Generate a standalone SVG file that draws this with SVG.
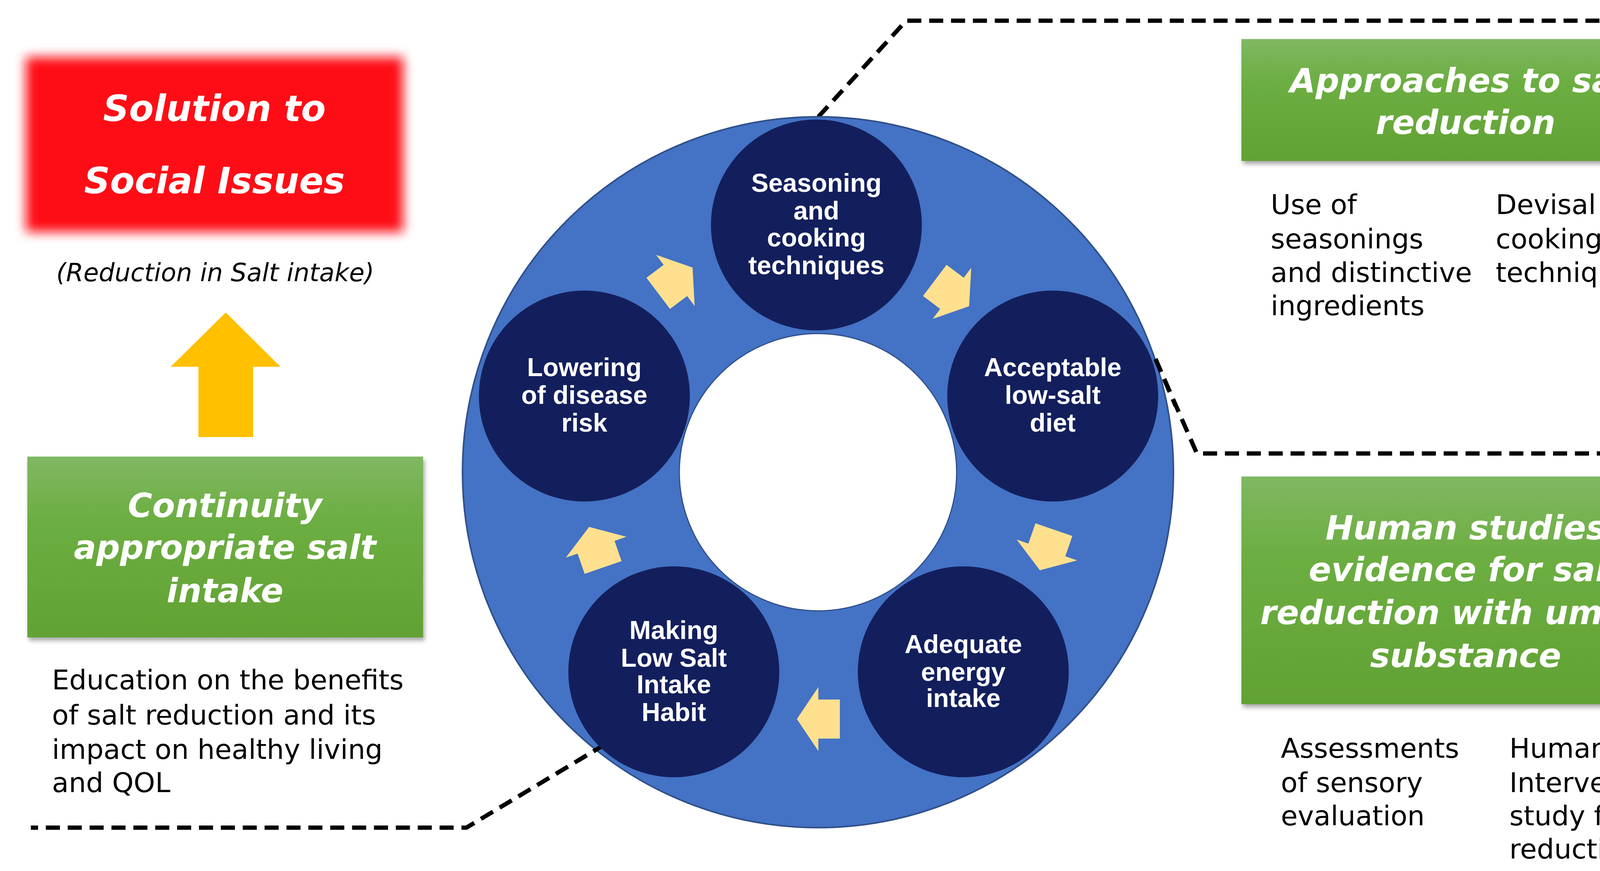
<svg xmlns="http://www.w3.org/2000/svg" width="4367" height="2230" viewBox="0 0 4367 2230">
<defs>
<linearGradient id="gg" x1="0" y1="0" x2="0" y2="1"><stop offset="0" stop-color="#80B862"/><stop offset="0.35" stop-color="#6CAE42"/><stop offset="1" stop-color="#62A234"/></linearGradient>
<filter id="blur" x="-10%" y="-20%" width="120%" height="140%"><feGaussianBlur stdDeviation="14"/></filter>
<filter id="sh" x="-5%" y="-5%" width="110%" height="115%"><feDropShadow dx="4" dy="8" stdDeviation="6" flood-color="#000" flood-opacity="0.35"/></filter>
<path id="arr" d="M-55,-50 L0,-50 L0,-82 L55,0 L0,82 L0,50 L-55,50 Z"/>
</defs>
<style>
.title{font-family:"DejaVu Sans",Verdana,sans-serif;font-weight:bold;font-style:italic;fill:#fff;text-anchor:middle}
.body{font-family:"DejaVu Sans",Verdana,sans-serif;font-size:70px;fill:#000}
.node{fill:#131F5C}
.nt{font-family:"Liberation Sans",Arial,sans-serif;font-weight:bold;font-size:66px;fill:#fff;text-anchor:middle}
.dash{fill:none;stroke:#000;stroke-width:11;stroke-dasharray:36 20}
.ya{fill:#FFE08F}
</style>
<rect width="4367" height="2230" fill="#fff"/>

<g id="connectors">
<polyline class="dash" points="2095,299 2320,53 4330,53"/>
<polyline class="dash" points="2958,919 3064,1161 4350,1161"/>
<polyline class="dash" points="1550,1905 1194,2119 79,2119"/>
</g>

<g id="ring">
<circle cx="2094" cy="1209" r="910" fill="#4472C4" stroke="#2F4F8A" stroke-width="4"/>
<circle cx="2094" cy="1209" r="355" fill="#fff" stroke="#2F4F8A" stroke-width="3"/>
</g>
<polyline class="dash" points="2958,919 3010,1040"/>
<polyline class="dash" points="1550,1905 1480,1947"/>

<g id="node-seasoning"><circle class="node" cx="2090" cy="576" r="270"/>
<text class="nt" x="2090" y="491">Seasoning</text><text class="nt" x="2090" y="562">and</text><text class="nt" x="2090" y="631">cooking</text><text class="nt" x="2090" y="702">techniques</text></g>
<g id="node-acceptable"><circle class="node" cx="2695" cy="1014" r="270"/>
<text class="nt" x="2695" y="963">Acceptable</text><text class="nt" x="2695" y="1034">low-salt</text><text class="nt" x="2695" y="1105">diet</text></g>
<g id="node-lowering"><circle class="node" cx="1496" cy="1014" r="270"/>
<text class="nt" x="1496" y="963">Lowering</text><text class="nt" x="1496" y="1034">of disease</text><text class="nt" x="1496" y="1105">risk</text></g>
<g id="node-adequate"><circle class="node" cx="2466" cy="1720" r="270"/>
<text class="nt" x="2466" y="1672">Adequate</text><text class="nt" x="2466" y="1743">energy</text><text class="nt" x="2466" y="1810">intake</text></g>
<g id="node-making"><circle class="node" cx="1725" cy="1720" r="270"/>
<text class="nt" x="1725" y="1636">Making</text><text class="nt" x="1725" y="1707">Low Salt</text><text class="nt" x="1725" y="1775">Intake</text><text class="nt" x="1725" y="1846">Habit</text></g>

<g id="cycle-arrows">
<use href="#arr" class="ya" transform="translate(2437,751) rotate(37)"/>
<use href="#arr" class="ya" transform="translate(2680,1408) rotate(109)"/>
<use href="#arr" class="ya" transform="translate(2095,1841) rotate(180)"/>
<use href="#arr" class="ya" transform="translate(1526,1401) rotate(251)"/>
<use href="#arr" class="ya" transform="translate(1729,718) rotate(-37)"/>
</g>

<g id="solution">
<rect x="66" y="146" width="966" height="448" fill="#FF0A14" filter="url(#blur)"/>
<text class="title" x="549" y="310" font-size="92">Solution to</text>
<text class="title" x="549" y="495" font-size="92">Social Issues</text>
<text x="551" y="720" font-family="DejaVu Sans,Verdana,sans-serif" font-style="italic" font-size="64" text-anchor="middle">(Reduction in Salt intake)</text>
</g>

<g id="up-arrow"><polygon points="578,800 718,939 648,939 648,1119 508,1119 508,939 437,939" fill="#FFC000"/></g>

<g id="continuity">
<rect x="70" y="1169" width="1013" height="463" fill="url(#gg)" filter="url(#sh)"/>
<text class="title" x="576" y="1324" font-size="85">Continuity</text>
<text class="title" x="576" y="1431" font-size="85">appropriate salt</text>
<text class="title" x="576" y="1542" font-size="85">intake</text>
<text class="body" x="133" y="1765">Education on the benefits</text>
<text class="body" x="133" y="1855">of salt reduction and its</text>
<text class="body" x="133" y="1943">impact on healthy living</text>
<text class="body" x="133" y="2028">and QOL</text>
</g>

<g id="approaches">
<rect x="3178" y="100" width="1147" height="312" fill="url(#gg)" filter="url(#sh)"/>
<text class="title" x="3752" y="236" font-size="85">Approaches to salt</text>
<text class="title" x="3752" y="343" font-size="85">reduction</text>
<text class="body" x="3253" y="548">Use of</text>
<text class="body" x="3253" y="636">seasonings</text>
<text class="body" x="3253" y="722">and distinctive</text>
<text class="body" x="3253" y="807">ingredients</text>
<text class="body" x="3829" y="548">Devisal of</text>
<text class="body" x="3829" y="636">cooking</text>
<text class="body" x="3829" y="722">techniques</text>
</g>

<g id="human">
<rect x="3178" y="1220" width="1147" height="583" fill="url(#gg)" filter="url(#sh)"/>
<text class="title" x="3752" y="1381" font-size="85">Human studies</text>
<text class="title" x="3752" y="1488" font-size="85">evidence for salt</text>
<text class="title" x="3752" y="1598" font-size="85">reduction with umami</text>
<text class="title" x="3752" y="1708" font-size="85">substance</text>
<text class="body" x="3279" y="1940">Assessments</text>
<text class="body" x="3279" y="2028">of sensory</text>
<text class="body" x="3279" y="2113">evaluation</text>
<text class="body" x="3864" y="1940">Human</text>
<text class="body" x="3864" y="2028">Intervention</text>
<text class="body" x="3864" y="2113">study for salt</text>
<text class="body" x="3864" y="2198">reduction</text>
</g>
</svg>
